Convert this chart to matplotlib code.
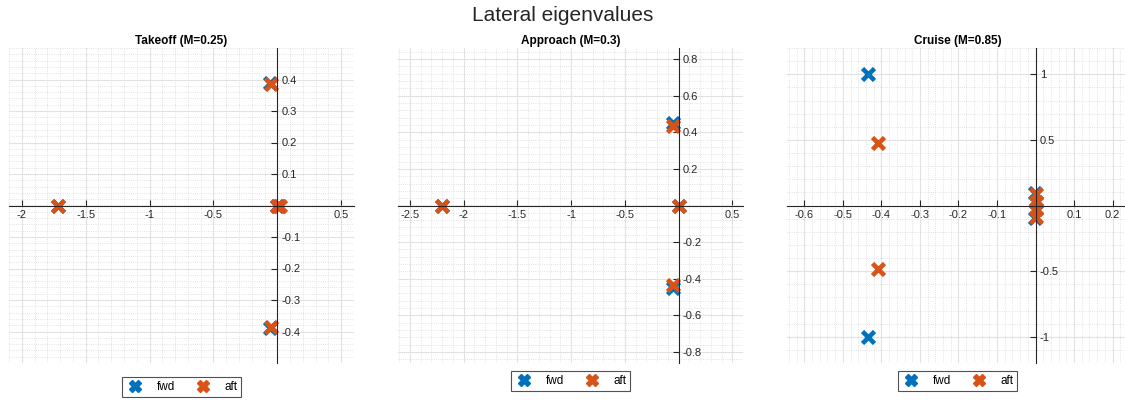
import matplotlib.pyplot as plt
from matplotlib.ticker import AutoMinorLocator
from matplotlib.lines import Line2D

plt.rcParams["font.family"] = ["Liberation Sans", "DejaVu Sans"]
plt.rcParams["axes.unicode_minus"] = False

titles = ["Takeoff (M=0.25)", "Approach (M=0.3)", "Cruise (M=0.85)"]

fwd_re = [
    [-1.72, -0.055, -0.055, 0.0, 0.015],
    [-2.2, -0.055, -0.055, 0.0],
    [-0.435, -0.435, -0.002, -0.002, 0.0, 0.0],
]
fwd_im = [
    [0.0, 0.39, -0.39, 0.0, 0.0],
    [0.0, 0.45, -0.45, 0.0],
    [1.0, -1.0, 0.095, -0.095, 0.03, -0.03],
]
aft_re = [
    [-1.72, -0.05, -0.05, 0.0, 0.02],
    [-2.2, -0.05, -0.05, 0.0],
    [-0.41, -0.41, 0.001, 0.001, 0.0, 0.0],
]
aft_im = [
    [0.0, 0.385, -0.385, 0.0, 0.0],
    [0.0, 0.435, -0.435, 0.0],
    [0.48, -0.48, 0.09, -0.09, 0.03, -0.03],
]

xlims = [(-2.1, 0.6), (-2.61, 0.6), (-0.645, 0.24)]
ylims = [(-0.5, 0.5), (-0.86, 0.86), (-1.2, 1.2)]
xticks = [
    [-2, -1.5, -1, -0.5, 0.5],
    [-2.5, -2, -1.5, -1, -0.5, 0.5],
    [-0.6, -0.5, -0.4, -0.3, -0.2, -0.1, 0.1, 0.2],
]
yticks = [
    [-0.4, -0.3, -0.2, -0.1, 0.1, 0.2, 0.3, 0.4],
    [-0.8, -0.6, -0.4, -0.2, 0.2, 0.4, 0.6, 0.8],
    [-1, -0.5, 0.5, 1],
]

blue = "#0072BD"
orange = "#D95319"

fig = plt.figure(figsize=(11.25, 4), dpi=100)
W, H = 1125.0, 400.0
lefts = [9, 398, 787]
rights = [354, 743, 1128]
legend_y = [387, 381, 381]

for i in range(3):
    ax = fig.add_axes([lefts[i] / W, 1 - 363 / H, (rights[i] - lefts[i]) / W, (363 - 48) / H])
    ax.plot(fwd_re[i], fwd_im[i], "x", color=blue, ms=9, mew=3.3, label="fwd")
    ax.plot(aft_re[i], aft_im[i], "x", color=orange, ms=9, mew=3.3, label="aft")
    ax.set_xlim(xlims[i])
    ax.set_ylim(ylims[i])
    ax.set_xticks(xticks[i])
    ax.set_yticks(yticks[i])
    ax.set_xticklabels([f"{t:g}" for t in xticks[i]])
    ax.set_yticklabels([f"{t:g}" for t in yticks[i]])
    ax.xaxis.set_minor_locator(AutoMinorLocator(5))
    ax.yaxis.set_minor_locator(AutoMinorLocator(5))

    # axes through the origin, like MATLAB's 'origin' location
    ax.spines["left"].set_visible(False)
    ax.spines["top"].set_visible(False)
    ax.spines["right"].set_position(("data", 0))
    ax.spines["bottom"].set_position(("data", 0))
    for s in ("right", "bottom"):
        ax.spines[s].set_color("#262626")
        ax.spines[s].set_linewidth(0.8)
    ax.yaxis.set_ticks_position("right")
    ax.xaxis.set_ticks_position("bottom")
    ax.tick_params(which="major", direction="in", length=4, width=0.8,
                   labelsize=8, colors="#262626", pad=3)
    ax.tick_params(which="minor", length=0)

    ax.grid(True, which="major", color="#e2e2e2", linewidth=0.8)
    ax.grid(True, which="minor", color="#d8d8d8", linestyle=":", linewidth=0.6)
    ax.set_axisbelow(True)
    ax.set_title(titles[i], fontsize=8.5, fontweight="bold", pad=3)

    handles = [
        Line2D([], [], marker="X", color=blue, linestyle="none", ms=8, mec=blue),
        Line2D([], [], marker="X", color=orange, linestyle="none", ms=8, mec=orange),
    ]
    leg = fig.legend(handles, ["fwd", "aft"], loc="center",
                     bbox_to_anchor=((lefts[i] + rights[i]) / 2 / W, 1 - legend_y[i] / H),
                     ncol=2, fontsize=8.5, frameon=True, fancybox=False,
                     borderpad=0.3, handlelength=1.6, handletextpad=1.0,
                     columnspacing=1.6)
    leg.get_frame().set_edgecolor("#262626")
    leg.get_frame().set_linewidth(0.8)

fig.suptitle("Lateral eigenvalues", fontsize=15, y=0.985, color="#262626")

plt.savefig("out.png", dpi=100)
